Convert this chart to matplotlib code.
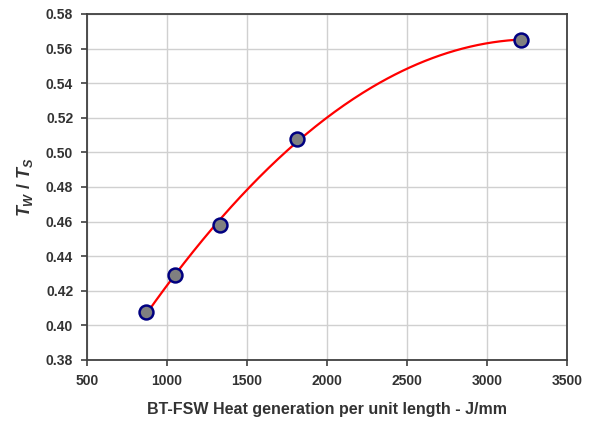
import matplotlib.pyplot as plt
import numpy as np

heat = [870, 1050, 1330, 1810, 3212]
ratio = [0.408, 0.429, 0.458, 0.508, 0.565]
xticks = [500, 1000, 1500, 2000, 2500, 3000, 3500]
yticks = [0.38, 0.40, 0.42, 0.44, 0.46, 0.48, 0.50, 0.52, 0.54, 0.56, 0.58]

plt.rcParams['font.family'] = 'Liberation Sans'
plt.rcParams['mathtext.fontset'] = 'custom'
plt.rcParams['mathtext.it'] = 'Liberation Sans:italic:bold'
plt.rcParams['mathtext.rm'] = 'Liberation Sans:bold'

fig = plt.figure(figsize=(5.92, 4.23), dpi=100)
ax = fig.add_axes([0.147, 0.149, 0.811, 0.818])

# quadratic trend line through the points
coef = np.polyfit(heat, ratio, 2)
xs = np.linspace(min(heat), max(heat), 200)
ax.plot(xs, np.polyval(coef, xs), color='red', lw=1.6, zorder=2)
ax.plot(heat, ratio, 'o', ms=10, mfc='#808080', mec='#000080', mew=1.8, zorder=3)

ax.set_xlim(500, 3500)
ax.set_ylim(0.38, 0.58)
ax.set_xticks(xticks)
ax.set_yticks(yticks)
ax.set_xticklabels([str(t) for t in xticks])
ax.set_yticklabels(['%.2f' % t for t in yticks])
ax.grid(True, color='#d0d0d0', lw=1)
ax.set_axisbelow(True)
for s in ax.spines.values():
    s.set_color('#404040')
    s.set_linewidth(1.3)
ax.tick_params(direction='out', length=4, width=1.2, color='#404040',
               labelsize=10, labelcolor='#333333', pad=6)
for lab in ax.get_xticklabels() + ax.get_yticklabels():
    lab.set_fontweight('bold')

ax.set_xlabel('BT-FSW Heat generation per unit length - J/mm', fontsize=11.5,
              fontweight='bold', color='#333333', labelpad=10)
ax.set_ylabel(r'$T_W$ / $T_S$', fontsize=13, fontweight='bold', color='#333333',
              labelpad=8)

plt.savefig('out.png', dpi=100)
